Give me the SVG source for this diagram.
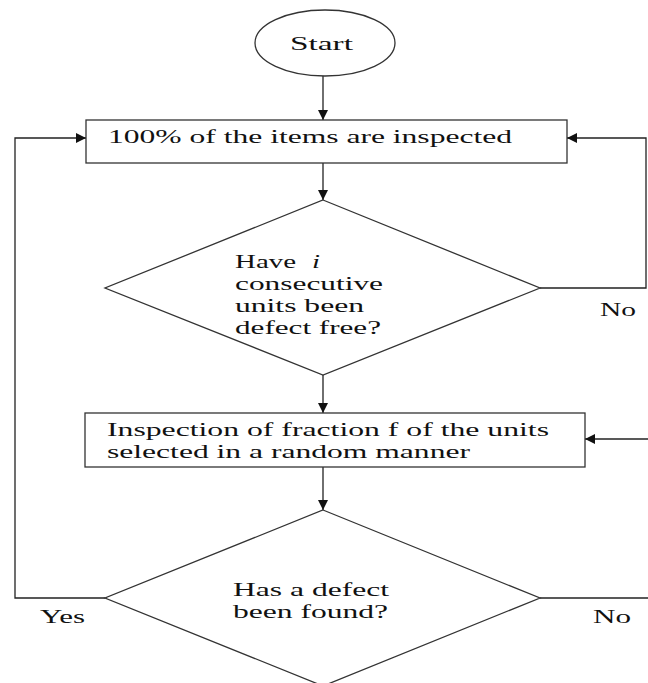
<svg xmlns="http://www.w3.org/2000/svg" width="648" height="683" viewBox="0 0 648 683">
<defs>
<style>
.shape{fill:#fff;stroke:#333;stroke-width:1.3}
.conn{fill:none;stroke:#222;stroke-width:1.3}
.t{font-size:19px;fill:#111}
</style>
<marker id="ah" viewBox="0 0 10 10" refX="10" refY="5" markerWidth="10" markerHeight="10" markerUnits="userSpaceOnUse" orient="auto">
<path d="M0,0 L10,5 L0,10 Z" fill="#111"/>
</marker>
</defs>
<rect width="648" height="683" fill="#fff"/>
<g font-family="Liberation Serif, Times New Roman, serif">
<g id="connectors">
<line class="conn" x1="323" y1="76" x2="323" y2="120" marker-end="url(#ah)"/>
<line class="conn" x1="323" y1="163" x2="323" y2="200" marker-end="url(#ah)"/>
<line class="conn" x1="323" y1="375" x2="323" y2="413" marker-end="url(#ah)"/>
<line class="conn" x1="323" y1="467" x2="323" y2="510" marker-end="url(#ah)"/>
<polyline class="conn" points="540,288 646,288 646,138 567,138" marker-end="url(#ah)"/>
<polyline class="conn" points="105,598 15,598 15,138 86,138" marker-end="url(#ah)"/>
<polyline class="conn" points="540,598 650,598"/>
<line class="conn" x1="650" y1="439" x2="585" y2="439" marker-end="url(#ah)"/>
<text class="t" x="600" y="316" textLength="36" lengthAdjust="spacingAndGlyphs">No</text>
<text class="t" x="40" y="623" textLength="45" lengthAdjust="spacingAndGlyphs">Yes</text>
<text class="t" x="593" y="623" textLength="38" lengthAdjust="spacingAndGlyphs">No</text>
</g>
<g id="start">
<ellipse class="shape" cx="325" cy="43" rx="70" ry="33"/>
<text class="t" x="290" y="50" textLength="63" lengthAdjust="spacingAndGlyphs">Start</text>
</g>
<g id="inspect-all">
<rect class="shape" x="86" y="120" width="481" height="43"/>
<text class="t" x="108" y="143" textLength="404" lengthAdjust="spacingAndGlyphs">100% of the items are inspected</text>
</g>
<g id="decision-defect-free">
<polygon class="shape" points="323,200 540,288 323,375 105,288"/>
<text class="t" x="235" y="268" textLength="61" lengthAdjust="spacingAndGlyphs">Have</text>
<text class="t" x="312" y="268" font-style="italic" textLength="8" lengthAdjust="spacingAndGlyphs">i</text>
<text class="t" x="235" y="290" textLength="148" lengthAdjust="spacingAndGlyphs">consecutive</text>
<text class="t" x="235" y="312" textLength="129" lengthAdjust="spacingAndGlyphs">units been</text>
<text class="t" x="235" y="334" textLength="146" lengthAdjust="spacingAndGlyphs">defect free?</text>
</g>
<g id="inspect-fraction">
<rect class="shape" x="85" y="413" width="500" height="54"/>
<text class="t" x="107" y="436" textLength="442" lengthAdjust="spacingAndGlyphs">Inspection of fraction f of the units</text>
<text class="t" x="107" y="458" textLength="363" lengthAdjust="spacingAndGlyphs">selected in a random manner</text>
</g>
<g id="decision-defect-found">
<polygon class="shape" points="323,510 540,598 323,686 105,598"/>
<text class="t" x="233" y="596" textLength="156" lengthAdjust="spacingAndGlyphs">Has a defect</text>
<text class="t" x="233" y="618" textLength="155" lengthAdjust="spacingAndGlyphs">been found?</text>
</g>
</g>
</svg>
